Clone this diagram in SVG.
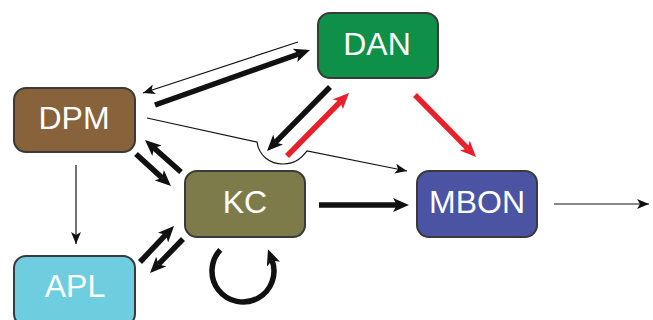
<svg xmlns="http://www.w3.org/2000/svg" width="653" height="320" viewBox="0 0 653 320">
<style>
.box{stroke:#3a3a3a;stroke-width:2}
.lbl{font-family:"Liberation Sans",Arial,sans-serif;font-size:32px;fill:#fff;text-anchor:middle}
.thick{stroke:#111;stroke-width:5.5;fill:none;marker-end:url(#hk)}
.red{stroke:#e8202a;stroke-width:5.5;fill:none;marker-end:url(#hr)}
.thin{stroke:#111;stroke-width:1.2;fill:none;marker-end:url(#ht)}
</style>
<defs>
<marker id="hk" markerUnits="userSpaceOnUse" markerWidth="17" markerHeight="14" refX="4" refY="7" orient="auto"><path d="M0,0 L16,7 L0,14 L4,7 Z" fill="#111"/></marker>
<marker id="hr" markerUnits="userSpaceOnUse" markerWidth="17" markerHeight="14" refX="4" refY="7" orient="auto"><path d="M0,0 L16,7 L0,14 L4,7 Z" fill="#e8202a"/></marker>
<marker id="ht" markerUnits="userSpaceOnUse" markerWidth="13" markerHeight="10" refX="12" refY="5" orient="auto"><path d="M0,0 L12,5 L0,10 L3,5 Z" fill="#111"/></marker>
</defs>
<rect width="653" height="320" fill="#fff"/>
<g id="connectors">
<line class="thin" x1="298" y1="42" x2="143" y2="93"/>
<line class="thick" x1="155" y1="105" x2="298.7" y2="54"/>
<line class="thick" x1="330" y1="87" x2="275.4" y2="142.4"/>
<line class="red" x1="287" y1="156" x2="340.6" y2="101.5"/>
<line class="red" x1="415" y1="95" x2="467.6" y2="148.4"/>
<path class="thin" d="M147,118 L257,142 C259,156 270,164 283,164 C297,164 303,156 307,151 L407,171"/>
<line class="thick" x1="136" y1="154" x2="162.1" y2="177.9"/>
<line class="thick" x1="181" y1="172" x2="154" y2="148"/>
<line class="thick" x1="140" y1="262" x2="165.8" y2="234.7"/>
<line class="thick" x1="183" y1="239" x2="158.4" y2="264.4"/>
<line class="thick" x1="319" y1="205" x2="397" y2="205"/>
<line class="thin" x1="76" y1="165" x2="76" y2="244"/>
<line class="thin" x1="554" y1="204" x2="649" y2="204"/>
<path class="thick" d="M220.3,249.9 A31,31 0 1 0 272.1,260.4"/>
</g>
<g id="DPM"><rect class="box" x="14" y="88" width="121" height="64" rx="12" fill="#87623a"/><text class="lbl" x="74" y="129">DPM</text></g>
<g id="DAN"><rect class="box" x="318" y="13" width="120" height="65" rx="12" fill="#0e9048"/><text class="lbl" x="377" y="55">DAN</text></g>
<g id="KC"><rect class="box" x="185" y="171" width="120" height="66" rx="12" fill="#7e7b4a"/><text class="lbl" x="245" y="213">KC</text></g>
<g id="MBON"><rect class="box" x="417" y="171" width="120" height="66" rx="12" fill="#4a54a2"/><text class="lbl" x="477" y="213">MBON</text></g>
<g id="APL"><rect class="box" x="14" y="256" width="121" height="70" rx="12" fill="#6ecddf"/><text class="lbl" x="75" y="297">APL</text></g>
</svg>
